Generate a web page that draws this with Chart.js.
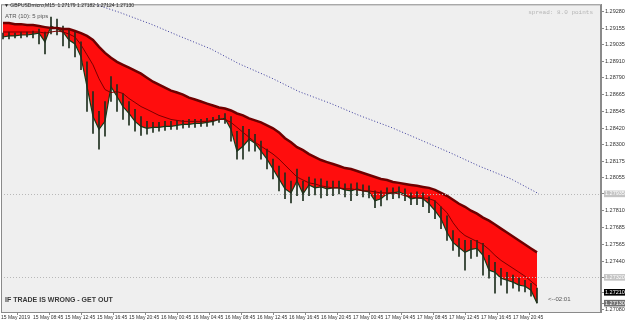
<!DOCTYPE html>
<html>
<head>
<meta charset="utf-8">
<script src="https://cdn.jsdelivr.net/npm/chart.js@4.4.0/dist/chart.umd.min.js"></script>
<style>
  html, body { margin: 0; padding: 0; background: #ffffff; }
  #wrap { width: 625px; height: 322px; }
</style>
</head>
<body>
<div id="wrap"><canvas id="chart" width="625" height="322"></canvas></div>
<script>
// one sample every 3 M15 bars, bar 0 = first bar on screen
let barStep = 3;

let slowMA = [1.29193,1.29193,1.29185,1.29185,1.29178,1.29178,1.29171,1.29163,1.29156,1.29156,
  1.29149,1.29149,1.29134,1.29119,1.29098,1.29068,1.29017,1.28973,1.28937,1.28907,
  1.28885,1.28864,1.28842,1.28820,1.28790,1.28761,1.28739,1.28717,1.28695,1.28681,
  1.28666,1.28644,1.28630,1.28615,1.28600,1.28586,1.28571,1.28564,1.28549,1.28527,
  1.28513,1.28491,1.28476,1.28461,1.28440,1.28418,1.28388,1.28345,1.28315,1.28279,
  1.28257,1.28228,1.28206,1.28184,1.28169,1.28155,1.28140,1.28125,1.28118,1.28103,
  1.28089,1.28074,1.28059,1.28045,1.28037,1.28023,1.28016,1.28008,1.28001,1.27994,
  1.27986,1.27979,1.27964,1.27942,1.27921,1.27891,1.27862,1.27840,1.27811,1.27789,
  1.27760,1.27738,1.27709,1.27679,1.27650,1.27621,1.27592,1.27562,1.27533,1.27504];

let midMA = [1.29127,1.29127,1.29127,1.29127,1.29127,1.29127,1.29127,1.29119,1.29127,1.29134,
  1.29127,1.29112,1.29090,1.29032,1.28959,1.28885,1.28783,1.28703,1.28681,1.28688,
  1.28674,1.28637,1.28608,1.28578,1.28557,1.28535,1.28513,1.28498,1.28483,1.28476,
  1.28469,1.28469,1.28469,1.28469,1.28469,1.28476,1.28483,1.28483,1.28461,1.28425,
  1.28388,1.28352,1.28315,1.28286,1.28257,1.28228,1.28191,1.28147,1.28103,1.28059,
  1.28037,1.28016,1.28008,1.27994,1.27986,1.27979,1.27979,1.27972,1.27972,1.27964,
  1.27957,1.27957,1.27950,1.27942,1.27942,1.27942,1.27935,1.27921,1.27913,1.27906,
  1.27906,1.27899,1.27884,1.27840,1.27796,1.27723,1.27665,1.27628,1.27606,1.27584,
  1.27562,1.27526,1.27482,1.27445,1.27416,1.27387,1.27358,1.27328,1.27292,1.27255];

let closes = [1.29090,1.29098,1.29098,1.29105,1.29105,1.29112,1.29119,1.29054,1.29171,1.29149,
  1.29127,1.29068,1.29039,1.28944,1.28725,1.28505,1.28410,1.28469,1.28725,1.28652,
  1.28578,1.28527,1.28469,1.28432,1.28418,1.28425,1.28425,1.28432,1.28432,1.28440,
  1.28447,1.28447,1.28454,1.28454,1.28461,1.28469,1.28483,1.28491,1.28410,1.28250,
  1.28286,1.28337,1.28308,1.28250,1.28191,1.28118,1.28045,1.27972,1.27942,1.28030,
  1.27935,1.28001,1.27979,1.27986,1.27972,1.27979,1.27979,1.27964,1.27957,1.27972,
  1.27957,1.27950,1.27884,1.27899,1.27935,1.27942,1.27950,1.27928,1.27899,1.27906,
  1.27899,1.27862,1.27811,1.27752,1.27650,1.27577,1.27540,1.27504,1.27526,1.27533,
  1.27482,1.27373,1.27358,1.27314,1.27299,1.27285,1.27263,1.27255,1.27226,1.27130];

let highs = [1.29119,1.29127,1.29119,1.29127,1.29127,1.29134,1.29149,1.29127,1.29236,1.29222,
  1.29171,1.29141,1.29127,1.29054,1.28907,1.28688,1.28542,1.28615,1.28798,1.28739,
  1.28674,1.28615,1.28557,1.28505,1.28469,1.28461,1.28461,1.28469,1.28469,1.28476,
  1.28476,1.28483,1.28483,1.28483,1.28491,1.28498,1.28513,1.28527,1.28505,1.28396,
  1.28432,1.28410,1.28374,1.28323,1.28264,1.28191,1.28140,1.28089,1.28030,1.28118,
  1.28030,1.28059,1.28045,1.28045,1.28030,1.28030,1.28030,1.28008,1.28008,1.28016,
  1.28001,1.27994,1.27957,1.27957,1.27979,1.27979,1.27986,1.27972,1.27942,1.27950,
  1.27942,1.27913,1.27884,1.27840,1.27774,1.27665,1.27606,1.27592,1.27592,1.27592,
  1.27570,1.27482,1.27431,1.27387,1.27358,1.27336,1.27314,1.27299,1.27277,1.27241];

let lows = [1.29076,1.29076,1.29083,1.29083,1.29090,1.29083,1.29039,1.28966,1.29112,1.29105,
  1.29024,1.29010,1.28944,1.28849,1.28542,1.28381,1.28264,1.28359,1.28615,1.28542,
  1.28483,1.28440,1.28396,1.28366,1.28374,1.28388,1.28396,1.28403,1.28410,1.28410,
  1.28418,1.28425,1.28425,1.28432,1.28432,1.28440,1.28461,1.28454,1.28323,1.28191,
  1.28191,1.28250,1.28250,1.28191,1.28118,1.28045,1.27957,1.27899,1.27869,1.27921,
  1.27884,1.27921,1.27928,1.27906,1.27921,1.27921,1.27935,1.27913,1.27884,1.27921,
  1.27913,1.27906,1.27833,1.27847,1.27891,1.27899,1.27906,1.27884,1.27855,1.27855,
  1.27840,1.27796,1.27752,1.27679,1.27592,1.27518,1.27475,1.27373,1.27460,1.27475,
  1.27336,1.27314,1.27204,1.27263,1.27204,1.27241,1.27219,1.27212,1.27182,1.27131];

// long (dotted blue) moving average, read at a few bars
let longBars = [46, 58, 74, 88, 104, 118, 134, 148, 164, 178, 194, 208, 224, 238, 254, 268];
let longValues = [1.29331, 1.29273, 1.29185, 1.29098, 1.29002, 1.28893, 1.28790, 1.28688,
  1.28600, 1.28513, 1.28425, 1.28337, 1.28235, 1.28140, 1.28045, 1.27935];

let timeLabels = ['15 May 2019', '15 May 08:45', '15 May 12:45', '15 May 16:45', '15 May 20:45',
  '16 May 00:45', '16 May 04:45', '16 May 08:45', '16 May 12:45', '16 May 16:45', '16 May 20:45',
  '17 May 00:45', '17 May 04:45', '17 May 08:45', '17 May 12:45', '17 May 16:45', '17 May 20:45'];

let axisPrices = [1.29280, 1.29155, 1.29035, 1.28910, 1.28790, 1.28665, 1.28545, 1.28420, 1.28300,
  1.28175, 1.28055, 1.27935, 1.27810, 1.27685, 1.27565, 1.27440, 1.27320, 1.27210, 1.27130, 1.27080];
let levelLines = [1.27935, 1.27320];
let markPrice = 1.27210;
let bidPrice = 1.27130;
let priceMin = 1.27065;
let priceMax = 1.29331;

// 16 M15 bars between time labels
let tickBars = timeLabels.map((t, m) => 16 * m - 1);

function same(a, b) { return Math.abs(a - b) < 1e-7; }
function special(v) { return same(v, markPrice) || same(v, bidPrice) || levelLines.some(l => same(l, v)); }

let frame = {
  id: 'frame',
  beforeDraw(chart) {
    let ctx = chart.ctx, a = chart.chartArea;
    ctx.save();
    ctx.fillStyle = '#ffffff';
    ctx.fillRect(0, 0, chart.width, chart.height);
    ctx.fillStyle = '#efefef';
    ctx.fillRect(a.left, a.top, a.right - a.left, a.bottom - a.top);
    ctx.restore();
  },
  afterDatasetsDraw(chart) {
    let ctx = chart.ctx, a = chart.chartArea, y = chart.scales.y;
    ctx.save();
    ctx.strokeStyle = '#b8b8b8';
    ctx.lineWidth = 1;
    ctx.setLineDash([1, 2]);
    levelLines.forEach(v => {
      let py = Math.round(y.getPixelForValue(v)) + 0.5;
      ctx.beginPath();
      ctx.moveTo(a.left, py);
      ctx.lineTo(a.right, py);
      ctx.stroke();
    });
    ctx.restore();
  },
  afterDraw(chart) {
    let ctx = chart.ctx, a = chart.chartArea;
    ctx.save();
    ctx.strokeStyle = '#8a8a8a';
    ctx.lineWidth = 1;
    ctx.strokeRect(a.left + 0.5, a.top + 0.5, a.right - a.left - 1, a.bottom - a.top);

    ctx.textBaseline = 'middle';
    ctx.fillStyle = '#222';
    ctx.font = '5px "Liberation Sans"';
    ctx.fillText('\u25BC GBPUSDmicro,M15  1.27179 1.27182 1.27124 1.27130', 4, 6);
    ctx.fillStyle = '#555';
    ctx.font = '6px "Liberation Sans"';
    ctx.fillText('ATR (10): 5 pips', 5, 16);
    ctx.fillStyle = '#b5b5b5';
    ctx.font = '6px "Liberation Mono"';
    ctx.textAlign = 'right';
    ctx.fillText('spread: 8.0 points', 593, 12);
    ctx.textAlign = 'left';
    ctx.fillStyle = '#3a3a3a';
    ctx.font = 'bold 7px "Liberation Sans"';
    ctx.fillText('IF TRADE IS WRONG - GET OUT', 5, 300);
    ctx.fillStyle = '#555';
    ctx.font = '6px "Liberation Sans"';
    ctx.fillText('<--02:01', 548, 299);
    ctx.restore();
  }
};

new Chart(document.getElementById('chart'), {
  type: 'line',
  data: {
    datasets: [
      {
        label: 'slow',
        data: slowMA.map((v, k) => ({ x: k * barStep, y: v })),
        borderColor: '#6e0000',
        borderWidth: 2.5,
        pointRadius: 0,
        fill: false,
        order: 1
      },
      {
        label: 'mid',
        data: midMA.map((v, k) => ({ x: k * barStep, y: v })),
        borderColor: '#7a0000',
        borderWidth: 1,
        pointRadius: 0,
        fill: false,
        order: 2
      },
      {
        label: 'close',
        data: closes.map((v, k) => ({ x: k * barStep, y: v })),
        borderColor: '#163a16',
        borderWidth: 1.2,
        pointRadius: 0,
        fill: { target: 0, above: '#ffffff', below: '#ff0d0d' },
        order: 5
      },
      {
        type: 'bar',
        label: 'candles',
        data: highs.map((h, k) => ({ x: k * barStep, y: [lows[k], h] })),
        backgroundColor: '#1e2e1e',
        barThickness: 1,
        grouped: false,
        order: 3
      },
      {
        label: 'long',
        data: longValues.map((v, k) => ({ x: longBars[k], y: v })),
        borderColor: '#3c3c9c',
        borderWidth: 1,
        borderDash: [1, 2],
        pointRadius: 0,
        fill: false,
        order: 0
      }
    ]
  },
  options: {
    responsive: false,
    animation: false,
    layout: { padding: { left: 1, top: 2, right: 0, bottom: 0 } },
    plugins: { legend: { display: false }, tooltip: { enabled: false } },
    scales: {
      x: {
        type: 'linear',
        min: -1,
        max: 299,
        offset: false,
        afterBuildTicks: s => { s.ticks = tickBars.map(v => ({ value: v })); },
        afterFit: s => { s.height = 10; },
        ticks: {
          align: 'start',
          autoSkip: false,
          maxRotation: 0,
          padding: 0,
          color: '#333',
          font: { family: 'Liberation Sans', size: 5 },
          callback: (v, i) => timeLabels[i]
        },
        grid: { drawOnChartArea: false, tickLength: 3, color: '#8a8a8a' },
        border: { color: '#8a8a8a' }
      },
      y: {
        position: 'right',
        min: priceMin,
        max: priceMax,
        afterBuildTicks: s => { s.ticks = axisPrices.map(v => ({ value: v })); },
        afterFit: s => { s.width = 24; },
        ticks: {
          autoSkip: false,
          padding: 1,
          font: { family: 'Liberation Sans', size: 5.5 },
          callback: v => v.toFixed(5),
          color: c => special(c.tick.value) ? '#ffffff' : '#333',
          showLabelBackdrop: c => special(c.tick.value),
          backdropColor: c => {
            let v = c.tick.value;
            if (same(v, markPrice)) return '#000000';
            if (same(v, bidPrice)) return '#707070';
            return '#c4c4c4';
          },
          backdropPadding: { top: 0, bottom: 0, left: 1, right: 1 }
        },
        grid: { drawOnChartArea: false, tickLength: 3, color: '#8a8a8a' },
        border: { color: '#8a8a8a' }
      }
    }
  },
  plugins: [frame]
});
</script>
</body>
</html>
